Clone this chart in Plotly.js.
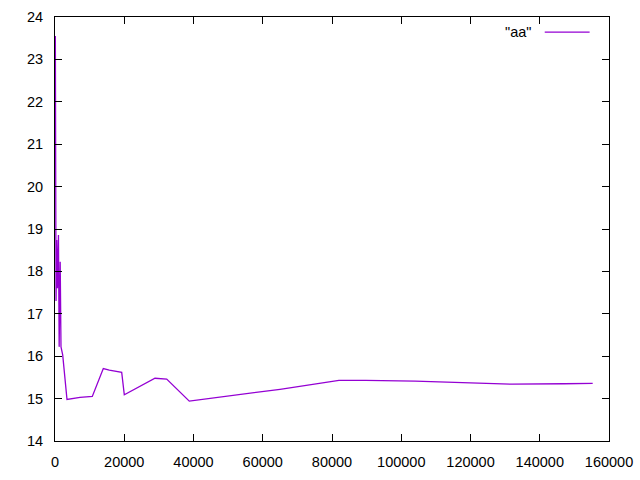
<!DOCTYPE html>
<html>
<head>
<meta charset="utf-8">
<script src="https://cdn.plot.ly/plotly-3.0.1.min.js"></script>
<style>html,body{margin:0;padding:0;background:#fff;}</style>
</head>
<body>
<div id="chart" style="width:640px;height:480px;"></div>
<script>
const seriesName = '"aa"';
const xValues = [100, 300, 500, 700, 1000, 1200, 1500, 1733, 2224, 3466, 7220, 10773, 13950, 15682, 19263, 20014, 28881, 32260, 38787, 64982, 82000, 89700, 104000, 118000, 132000, 147000, 155290];
const yValues = [23.55, 17.3, 18.74, 17.6, 18.86, 16.22, 18.23, 16.22, 16.03, 14.98, 15.03, 15.05, 15.71, 15.67, 15.62, 15.09, 15.48, 15.46, 14.94, 15.22, 15.43, 15.43, 15.41, 15.38, 15.34, 15.35, 15.36];

const font = {family: '"Liberation Sans", Arial, sans-serif', size: 14.5, color: '#000'};
const axisCommon = {
  showgrid: false, zeroline: false, showline: true, linecolor: '#000', linewidth: 1,
  mirror: 'ticks', ticks: 'inside', ticklen: 7, tickcolor: '#000', tickwidth: 1,
  tickfont: font, ticklabelstandoff: 8
};
const trace = {
  x: xValues, y: yValues, type: 'scatter', mode: 'lines', name: seriesName,
  line: {color: '#9400d3', width: 1.3}, showlegend: false
};
const layout = {
  width: 640, height: 480,
  margin: {l: 55, r: 31, t: 17, b: 39},
  paper_bgcolor: '#fff', plot_bgcolor: '#fff',
  xaxis: Object.assign({}, axisCommon, {range: [0, 160000], dtick: 20000, tick0: 0, tickformat: 'd'}),
  yaxis: Object.assign({}, axisCommon, {range: [14, 24], dtick: 1, tick0: 14}),
  annotations: [{
    xref: 'paper', yref: 'paper', x: 0.863, y: 0.9645, xanchor: 'right', yanchor: 'middle',
    text: seriesName, showarrow: false, font: font
  }],
  shapes: [{
    type: 'line', xref: 'paper', yref: 'paper', x0: 0.884, x1: 0.965, y0: 0.9645, y1: 0.9645,
    line: {color: '#9400d3', width: 1.3}
  }]
};
Plotly.newPlot('chart', [trace], layout, {staticPlot: true, displayModeBar: false});
</script>
</body>
</html>
